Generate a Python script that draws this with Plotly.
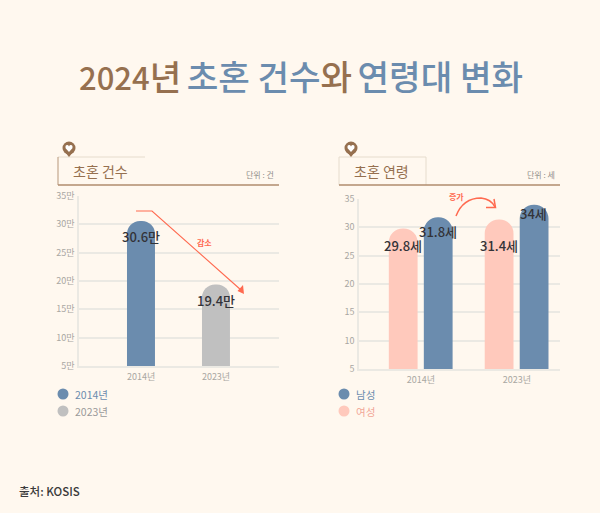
import plotly.graph_objects as go

# ---- data ----
count_years = ["2014년", "2023년"]
count_values = [30.6, 19.4]
count_labels = ["30.6만", "19.4만"]
count_ticks = [5, 10, 15, 20, 25, 30, 35]
count_ticktext = ["5만", "10만", "15만", "20만", "25만", "30만", "35만"]

age_years = ["2014년", "2023년"]
age_female = [29.8, 31.4]
age_male = [31.8, 34]
age_female_labels = ["29.8세", "31.4세"]
age_male_labels = ["31.8세", "34세"]
age_ticks = [5, 10, 15, 20, 25, 30, 35]

# ---- style ----
W, H = 600, 513
FONT = "Noto Sans CJK KR"
BG = "#fff8ef"
BLUE = "#6b8cae"
GRAY = "#c0c0c0"
PINK = "#ffc9bc"
BROWN = "#96704f"
RED = "#ff6a50"
GRID = "#ebe9e3"
TICK = "#a9a7a2"
DARK = "#333338"


def px(x):
    return x / W


def py(y):
    return 1 - y / H


fig = go.Figure()

# left chart
fig.add_trace(go.Bar(x=[count_years[0]], y=[count_values[0]], marker_color=BLUE, marker_line_width=0,
                     width=0.373, offset=-0.187, xaxis="x", yaxis="y", showlegend=False))
fig.add_trace(go.Bar(x=[count_years[1]], y=[count_values[1]], marker_color=GRAY, marker_line_width=0,
                     width=0.373, offset=-0.187, xaxis="x", yaxis="y", showlegend=False))
# right chart
fig.add_trace(go.Bar(x=age_years, y=age_female, marker_color=PINK, marker_line_width=0,
                     width=0.30, offset=-0.335, xaxis="x2", yaxis="y2", showlegend=False))
fig.add_trace(go.Bar(x=age_years, y=age_male, marker_color=BLUE, marker_line_width=0,
                     width=0.30, offset=0.03, xaxis="x2", yaxis="y2", showlegend=False))

annotations = []


def note(x, y, text, size, color, anchor="center", weight=400):
    annotations.append(dict(xref="paper", yref="paper", x=px(x), y=py(y), text=text, showarrow=False,
                            xanchor=anchor, yanchor="middle",
                            font=dict(family=FONT, size=size, color=color, weight=weight)))


def value_label(xref, yref, x, y, text, xshift, yshift):
    annotations.append(dict(xref=xref, yref=yref, x=x, y=y, text=text, showarrow=False,
                            xanchor="center", yanchor="middle", xshift=xshift, yshift=yshift,
                            font=dict(family=FONT, size=13, color=DARK, weight=500)))


# title
note(300.5, 75,
     f'<span style="color:{BROWN};font-size:31px">2024</span><span style="color:{BROWN}">년</span>'
     f'<span style="font-size:24px"> </span><span style="color:{BLUE}">초혼 건수</span>'
     f'<span style="color:{BROWN}">와</span><span style="font-size:24px"> </span>'
     f'<span style="color:{BLUE}">연령대 변화</span>',
     34.3, BROWN, weight=500)

# section headings
note(71, 171, "초혼 건수", 14, BROWN, "left")
note(352, 171, "초혼 연령", 14, BROWN, "left")
note(276, 175, "단위 : 건", 8, "#8f8d88", "right")
note(557, 175, "단위 : 세", 8, "#8f8d88", "right")

# value labels
for yr, v, t, s in zip(count_years, count_values, count_labels, (-16, -16)):
    value_label("x", "y", yr, v, t, 0, s)
for yr, v, t, s in zip(age_years, age_female, age_female_labels, (-17, -26)):
    value_label("x2", "y2", yr, v, t, -18, s)
for yr, v, t, s in zip(age_years, age_male, age_male_labels, (-14, -9)):
    value_label("x2", "y2", yr, v, t, 17, s)

# arrow captions
note(204, 243, "감소", 8, RED, weight=700)
note(456, 196, "증가", 8, RED, weight=700)

# legends
note(73, 394, count_years[0], 10.5, BLUE, "left")
note(73, 411, count_years[1], 10.5, "#9a9a9a", "left")
note(354, 394, "남성", 10.5, BLUE, "left")
note(354, 411, "여성", 10.5, "#f2a797", "left")

# source
note(17, 491, "출처: KOSIS", 11.5, "#3a3a3a", "left", 500)

shapes = []


def line(x0, y0, x1, y1, color, width=1):
    shapes.append(dict(type="line", xref="paper", yref="paper", x0=px(x0), y0=py(y0), x1=px(x1), y1=py(y1),
                       line=dict(color=color, width=width), layer="above"))


def circle(cx, cy, r, color):
    shapes.append(dict(type="circle", xref="paper", yref="paper", x0=px(cx - r), x1=px(cx + r),
                       y0=py(cy - r), y1=py(cy + r), fillcolor=color, line_width=0, layer="above"))


def path(points, fill=None, color=None, width=1):
    d = ""
    for cmd, *xy in points:
        d += cmd + " " + " ".join(
            f"{px(v) if i % 2 == 0 else py(v):.5f}" for i, v in enumerate(xy)) + " "
    shapes.append(dict(type="path", xref="paper", yref="paper", path=d.strip(),
                       fillcolor=fill, line=dict(color=color, width=width) if color else dict(width=0),
                       layer="above"))


# heading rules and boxes
line(58, 157, 145, 157, "#e6dccd", 1)
line(58, 157, 58, 185, "#b7977b", 1)
line(58, 185, 279, 185, "#b08d6e", 1.5)
line(339, 157, 426, 157, "#e6dccd", 1)
line(339, 157, 339, 185, "#e6dccd", 1)
line(426, 157, 426, 185, "#e6dccd", 1)
line(339, 185, 560, 185, "#b08d6e", 1.5)

# pins
for cx in (69, 351):
    circle(cx, 148, 6.5, BROWN)
    path([("M", cx - 4, 152), ("L", cx, 157), ("L", cx + 4, 152), ("Z",)], fill=BROWN)
    path([("M", cx, 152), ("L", cx - 3.4, 148.2), ("Q", cx - 4, 145, cx - 1.8, 145),
          ("Q", cx - 0.6, 145, cx, 146.4), ("Q", cx + 0.6, 145, cx + 1.8, 145),
          ("Q", cx + 4, 145, cx + 3.4, 148.2), ("Z",)], fill="#ffffff")

# decrease arrow
path([("M", 136, 211), ("L", 152, 211), ("L", 241, 290)], color=RED, width=1.1)
path([("M", 244, 294), ("L", 237.5, 291), ("L", 243, 285), ("Z",)], fill=RED)

# increase arrow
path([("M", 456, 216), ("Q", 463, 198, 481, 198), ("Q", 491, 199, 495, 207)], color=RED, width=1.5)
path([("M", 486, 207.5), ("L", 495.5, 207.5), ("L", 494, 199)], color=RED, width=1.5)

# legend dots
circle(63, 394, 5.5, BLUE)
circle(63, 411, 5.5, GRAY)
circle(344, 394, 5.5, BLUE)
circle(344, 411, 5.5, PINK)

axis_common = dict(showgrid=False, zeroline=False, showline=True, linecolor=GRID, linewidth=1.5, ticks="",
                   tickfont=dict(family=FONT, size=9, color=TICK), fixedrange=True, ticklabelstandoff=1)
yaxis_common = dict(showgrid=True, gridcolor=GRID, gridwidth=1.5, zeroline=False, showline=True, linecolor=GRID,
                    linewidth=1.5, ticks="", range=[5, 35], tickfont=dict(family=FONT, size=9, color=TICK),
                    fixedrange=True, ticklabelstandoff=1)

fig.update_layout(
    width=W, height=H, autosize=False,
    margin=dict(l=0, r=0, t=0, b=0, autoexpand=False),
    paper_bgcolor=BG, plot_bgcolor=BG,
    barmode="overlay",
    barcornerradius="50%",
    showlegend=False,
    xaxis=dict(axis_common, domain=[px(79), px(279)], anchor="y", type="category",
               categoryorder="array", categoryarray=count_years, range=[-0.827, 1.84]),
    yaxis=dict(yaxis_common, domain=[py(366), py(196)], anchor="x", tickvals=count_ticks, ticktext=count_ticktext),
    xaxis2=dict(axis_common, domain=[px(359), px(560)], anchor="y2", type="category",
                categoryorder="array", categoryarray=age_years, range=[-0.646, 1.45]),
    yaxis2=dict(yaxis_common, domain=[py(369), py(199)], anchor="x2", tickvals=age_ticks),
    annotations=annotations,
    shapes=shapes,
)

fig.write_html("out.html", config={"displayModeBar": False},
               post_script="document.body.style.margin='0';document.body.style.overflow='hidden';")
